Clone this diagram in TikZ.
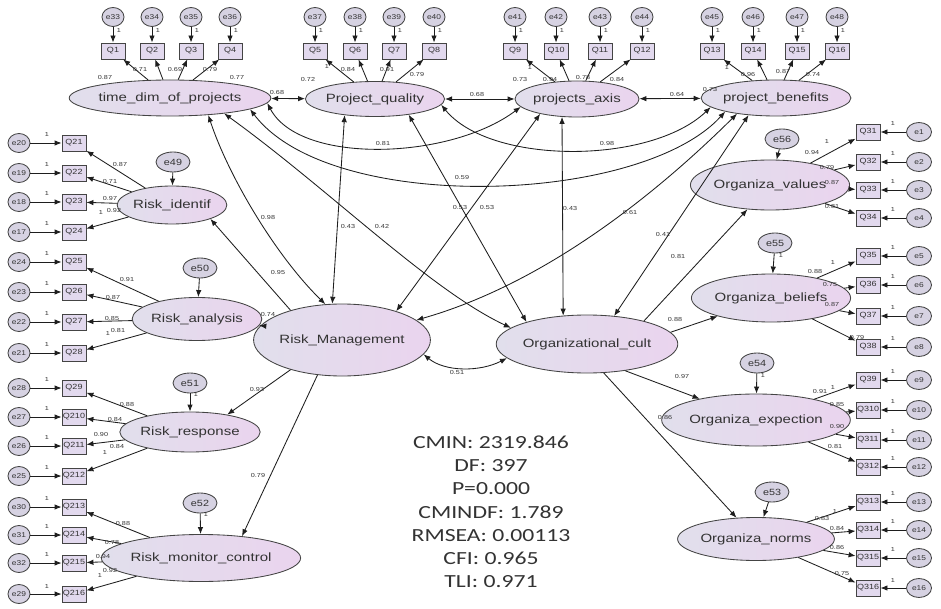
\documentclass[tikz,border=0pt]{standalone}
\usepackage{fontspec}
\usepackage{graphicx}
\setmainfont{Liberation Sans}
\newfontfamily\statfont{Carlito}
\usetikzlibrary{arrows.meta,shapes.geometric}
\newcommand{\wide}[1]{\scalebox{1.25}[1]{#1}}
\newcommand{\sw}[1]{\scalebox{1.2}[1]{#1}}
\definecolor{lavfill}{HTML}{E2D9EE}
\definecolor{latL}{HTML}{E1DFEC}
\definecolor{latR}{HTML}{EAD4EE}
\definecolor{linec}{HTML}{1E1E1E}
\definecolor{bordc}{HTML}{444444}
\definecolor{errfill}{HTML}{D6D2E2}
\definecolor{txt}{HTML}{333333}
\begin{document}
\begin{tikzpicture}[x=1pt,y=-1pt,
  lat/.style={ellipse, draw=bordc, line width=0.85pt, left color=latL, right color=latR, inner sep=0pt, text=txt, font=\fontsize{12}{12}\selectfont},
  obs/.style={rectangle, draw=bordc, line width=0.85pt, fill=lavfill, minimum width=24pt, minimum height=16pt, inner sep=0pt, text=txt, font=\fontsize{7.5}{8}\selectfont},
  err/.style={ellipse, draw=bordc, line width=0.85pt, fill=errfill, minimum width=22pt, minimum height=19pt, inner sep=0pt, text=txt, font=\fontsize{7}{7}\selectfont},
  dist/.style={err, minimum width=34pt, minimum height=20pt, font=\fontsize{9}{9}\selectfont},
  lbl/.style={inner sep=0pt, text=txt, font=\fontsize{5.8}{6}\selectfont},
  arr/.style={-{Latex[length=7pt,width=5.5pt]}, draw=linec, line width=0.85pt},
  darr/.style={{Latex[length=7pt,width=5.5pt]}-{Latex[length=7pt,width=5.5pt]}, draw=linec, line width=0.85pt}]
\fill[white] (0,0) rectangle (941,609);
\useasboundingbox (0,0) rectangle (941,609);

% latent variables
\node[lat, minimum width=152pt, minimum height=36pt] (td) at (170,98) {\wide{time\_dim\_of\_projects}};
\node[lat, minimum width=136pt, minimum height=35pt] (pq) at (375,99) {\wide{Project\_quality}};
\node[lat, minimum width=124pt, minimum height=36pt] (pa) at (577,99) {\wide{projects\_axis}};
\node[lat, minimum width=124pt, minimum height=36pt] (pb) at (776,98) {\wide{project\_benefits}};
\node[lat, minimum width=100pt, minimum height=38pt] (ri) at (172,205) {\wide{Risk\_identif}};
\node[lat, minimum width=113pt, minimum height=43pt] (ra) at (197,319) {\wide{Risk\_analysis}};
\node[lat, minimum width=120pt, minimum height=40pt] (rr) at (190,432) {\wide{Risk\_response}};
\node[lat, minimum width=153pt, minimum height=47pt] (rmc) at (201,558) {\wide{Risk\_monitor\_control}};
\node[lat, minimum width=154pt, minimum height=72pt] (rm) at (342,340) {\wide{Risk\_Management}};
\node[lat, minimum width=160pt, minimum height=58pt] (oc) at (587,344) {\wide{Organizational\_cult}};
\node[lat, minimum width=116pt, minimum height=50pt] (ov) at (770,185) {\wide{Organiza\_values}};
\node[lat, minimum width=112pt, minimum height=48pt] (ob) at (771,298) {\wide{Organiza\_beliefs}};
\node[lat, minimum width=142pt, minimum height=52pt] (oe) at (756,420) {\wide{Organiza\_expection}};
\node[lat, minimum width=142pt, minimum height=43pt] (on) at (756,539) {\wide{Organiza\_norms}};

% top indicators
\foreach \x/\q/\e/\L in {113/1/33/td,152/2/34/td,191/3/35/td,230/4/36/td,
  315/5/37/pq,355/6/38/pq,394/7/39/pq,434/8/40/pq,
  515/9/41/pa,556/10/42/pa,600/11/43/pa,642/12/44/pa,
  712/13/45/pb,753/14/46/pb,797/15/47/pb,837/16/48/pb}{
  \node[err] (e\e) at (\x,17) {\sw{e\e}};
  \node[obs] (q\q) at (\x,51) {\sw{Q\q}};
  \draw[arr] (e\e) -- (q\q);
  \draw[arr] (\L) -- (q\q);
  \node[lbl] (u\q) at (\x+6,31) {\wide{1}};
}

% left indicators
\foreach \y/\q/\e/\L in {143/21/20/ri,173/22/19/ri,202/23/18/ri,232/24/17/ri,
  262/25/24/ra,292/26/23/ra,322/27/22/ra,353/28/21/ra,
  388/29/28/rr,417/210/27/rr,446/211/26/rr,476/212/25/rr,
  507/213/30/rmc,535/214/31/rmc,563/215/32/rmc,594/216/29/rmc}{
  \node[err] (e\e) at (19,\y) {\sw{e\e}};
  \node[obs] (q\q) at (74,\y) {\sw{Q\q}};
  \draw[arr] (e\e) -- (q\q);
  \draw[arr] (\L) -- (q\q);
  \node[lbl] (u\q) at (47,\y-8) {\wide{1}};
}

% right indicators
\foreach \y/\q/\e/\L in {132/31/1/ov,162/32/2/ov,190/33/3/ov,218/34/4/ov,
  256/35/5/ob,285/36/6/ob,316/37/7/ob,347/38/8/ob,
  380/39/9/oe,410/310/10/oe,440/311/11/oe,467/312/12/oe,
  502/313/13/on,530/314/14/on,558/315/15/on,588/316/16/on}{
  \node[err, minimum width=25pt] (e\e) at (919,\y) {\sw{e\e}};
  \node[obs] (q\q) at (868,\y) {\sw{Q\q}};
  \draw[arr] (e\e) -- (q\q);
  \draw[arr] (\L) -- (q\q);
  \node[lbl] (u\q) at (893,\y-8) {\wide{1}};
}

% disturbances
\foreach \n/\p/\L in {49/{(173,162)}/ri,50/{(200,268)}/ra,51/{(190,383)}/rr,52/{(200,503)}/rmc,
  53/{(772,492)}/on,54/{(757,363)}/oe,55/{(775,243)}/ob,56/{(782,139)}/ov}{
  \node[dist] (e\n) at \p {\sw{e\n}};
  \draw[arr] (e\n) -- (\L);
}
\node[lbl] (d51) at (196,395) {\wide{1}};
\node[lbl] (d52) at (206,515) {\wide{1}};
\node[lbl] (d54) at (763,376) {\wide{1}};
\node[lbl] (d55) at (781,256) {\wide{1}};

% correlations among first-order factors
\draw[darr] (td) -- (pq);
\draw[darr] (pq) -- (pa);
\draw[darr] (pa) -- (pb);
\draw[darr] (td.-3) .. controls (300,165) and (450,160) .. (pa.-172);
\draw[darr] (pq.-5) .. controls (490,165) and (650,165) .. (pb.-172);
\draw[darr] (td.-8) .. controls (330,215) and (640,205) .. (pb.-165);
\draw[darr] (td.-24) .. controls (228,175) and (275,255) .. (rm.115);
\draw[darr] (td.-16) .. controls (330,190) and (430,290) .. (oc.168);
\draw[darr] (pq.-152) -- (rm.105);
\draw[darr] (pq.-25) -- (oc.160);
\draw[darr] (pa.-158) -- (rm.28);
\draw[darr] (pa.-130) -- (oc.130);
\draw[darr] (pb.-158) .. controls (650,200) and (540,285) .. (rm.15);
\draw[darr] (pb.-148) -- (oc.46);
\draw[darr] (rm.-10) .. controls (445,372) and (480,372) .. (oc.-170);

% structural paths
\draw[arr] (rm.150) -- (ri.-20);
\draw[arr] (rm.170) -- (ra);
\draw[arr] (rm.-150) -- (rr.25);
\draw[arr] (rm.-125) -- (rmc.28);
\draw[arr] (oc.22) -- (ov);
\draw[arr] (oc.8) -- (ob);
\draw[arr] (oc.-35) -- (oe);
\draw[arr] (oc.-60) -- (on);

% loading labels
\foreach \p/\t [count=\i] in {{(105,78)}/0.87,{(140,70)}/0.71,{(175,70)}/0.69,{(210,70)}/0.79,{(237,78)}/0.77,
  {(308,80)}/0.72,{(327,67)}/1,{(348,70)}/0.84,{(387,70)}/0.91,{(417,75)}/0.79,
  {(520,80)}/0.73,{(530,68)}/1,{(550,80)}/0.94,{(583,78)}/0.78,{(617,80)}/0.84,
  {(710,90)}/0.73,{(727,68)}/1,{(748,75)}/0.96,{(783,72)}/0.87,{(813,75)}/0.74}{
  \node[lbl] (ta\i) at \p {\wide{\t}};
}
\foreach \p/\t [count=\i] in {{(120,165)}/0.87,{(110,182)}/0.71,{(110,199)}/0.97,{(114,211)}/0.92,{(101,213)}/1,
  {(127,280)}/0.91,{(113,298)}/0.87,{(112,319)}/0.85,{(118,331)}/0.81,{(108,334)}/1,
  {(127,405)}/0.88,{(115,420)}/0.84,{(101,435)}/0.90,{(117,447)}/0.84,{(105,453)}/1,
  {(123,523)}/0.88,{(112,542)}/0.78,{(103,556)}/0.94,{(110,570)}/0.92,{(100,575)}/1}{
  \node[lbl] (la\i) at \p {\wide{\t}};
}
\foreach \p/\t [count=\i] in {{(827,142)}/1,{(812,153)}/0.94,{(827,168)}/0.79,{(832,183)}/0.87,{(832,207)}/0.81,
  {(833,263)}/1,{(815,272)}/0.88,{(830,285)}/0.75,{(832,305)}/0.87,{(857,338)}/0.79,
  {(833,388)}/1,{(820,392)}/0.91,{(837,405)}/0.85,{(837,427)}/0.90,{(835,447)}/0.81,
  {(835,512)}/1,{(822,518)}/0.83,{(837,528)}/0.84,{(837,547)}/0.86,{(842,573)}/0.75}{
  \node[lbl] (ra\i) at \p {\wide{\t}};
}
\foreach \p/\t [count=\i] in {{(277,93)}/0.68,{(477,95)}/0.68,{(677,95)}/0.64,{(383,144)}/0.81,{(607,144)}/0.98,
  {(462,178)}/0.59,{(268,218)}/0.98,{(348,227)}/0.43,{(382,227)}/0.42,{(460,208)}/0.53,{(487,208)}/0.53,
  {(570,209)}/0.43,{(630,213)}/0.61,{(663,235)}/0.41,{(678,257)}/0.81,{(675,320)}/0.88,{(682,377)}/0.97,
  {(665,418)}/0.86,{(457,373)}/0.51,{(278,273)}/0.95,{(268,315)}/0.74,{(257,390)}/0.93,{(258,475)}/0.79}{
  \node[lbl] (sl\i) at \p {\wide{\t}};
}

% fit statistics
\node[inner sep=0pt, text=txt, font=\statfont\fontsize{18.5}{23.2}\selectfont] (stats) at (491,513.5)
 {\scalebox{1.28}[1]{\begin{tabular}{@{}c@{}}CMIN: 2319.846\\ DF: 397\\ P=0.000\\ CMINDF: 1.789\\ RMSEA: 0.00113\\ CFI: 0.965\\ TLI: 0.971\end{tabular}}};
\end{tikzpicture}
\end{document}
